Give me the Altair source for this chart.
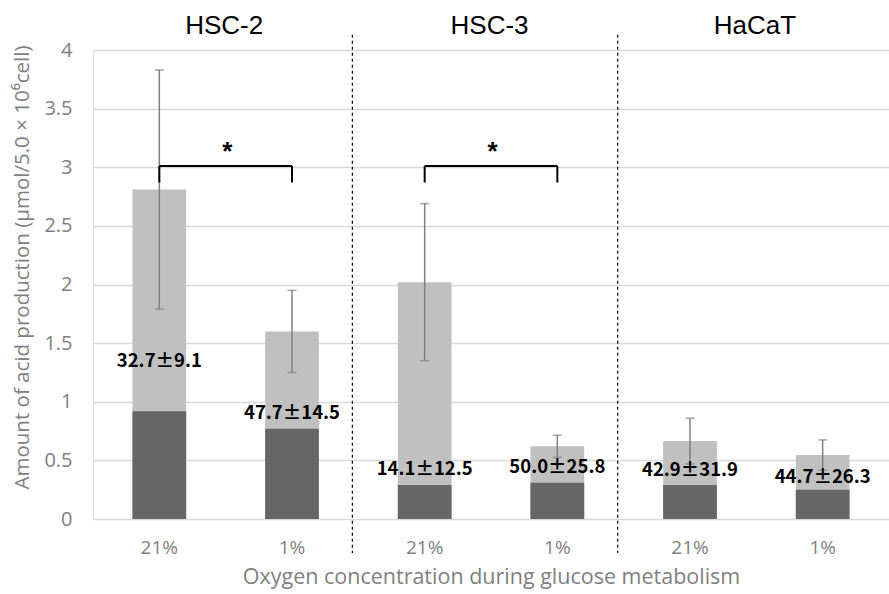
import altair as alt
import pandas as pd

# ---- data ----
groups = ["HSC-2", "HSC-2", "HSC-3", "HSC-3", "HaCaT", "HaCaT"]
oxygen = ["21%", "1%", "21%", "1%", "21%", "1%"]
total = [2.81, 1.60, 2.02, 0.62, 0.665, 0.545]
dark = [0.92, 0.77, 0.29, 0.31, 0.29, 0.25]
sd = [1.02, 0.35, 0.67, 0.095, 0.195, 0.13]
labels = ["32.7±9.1", "47.7±14.5", "14.1±12.5", "50.0±25.8", "42.9±31.9", "44.7±26.3"]
label_y = [1.35, 0.90, 0.43, 0.44, 0.42, 0.36]

title_groups = ["HSC-2", "HSC-3", "HaCaT"]
title_y = 4.14

sig_groups = ["HSC-2", "HSC-3"]
bracket_top = 3.01
bracket_leg = 2.87
star_y = 3.13

sep_after = ["HSC-2", "HSC-3"]
sep_top = 4.13
sep_bottom = -0.29

keys = [f"{g}|{o}" for g, o in zip(groups, oxygen)]

df = pd.DataFrame({
    "key": keys,
    "group": groups,
    "oxygen": oxygen,
    "total": total,
    "dark": dark,
    "lo": [t - s for t, s in zip(total, sd)],
    "hi": [t + s for t, s in zip(total, sd)],
    "label": labels,
    "label_y": label_y,
})

titles_df = pd.DataFrame({"key": [f"{g}|21%" for g in title_groups],
                          "name": title_groups, "y": [title_y] * 3})
br_df = pd.DataFrame({
    "k1": [f"{g}|21%" for g in sig_groups],
    "k2": [f"{g}|1%" for g in sig_groups],
    "top": [bracket_top] * 2,
    "leg": [bracket_leg] * 2,
    "star": [star_y] * 2,
})
legs_df = pd.DataFrame({
    "key": [f"{g}|{o}" for g in sig_groups for o in ["21%", "1%"]],
    "top": [bracket_top] * 4,
    "leg": [bracket_leg] * 4,
})
sep_df = pd.DataFrame({"key": [f"{g}|1%" for g in sep_after],
                       "top": [sep_top] * 2, "bottom": [sep_bottom] * 2})

AXIS_FONT = "Open Sans"
GRAY = "#808080"

xscale = alt.Scale(domain=keys, paddingInner=0.595, paddingOuter=0.2975)
yscale = alt.Scale(domain=[0, 4], nice=False)

x_axis = alt.Axis(
    title="Oxygen concentration during glucose metabolism",
    labelExpr="split(datum.value, '|')[1]",
    labelAngle=0, labelFont=AXIS_FONT, labelFontSize=19, labelColor=GRAY,
    labelPadding=19, titleFont=AXIS_FONT, titleFontSize=21.5, titleColor=GRAY,
    titleFontWeight="normal", titlePadding=9, domain=False, ticks=False, grid=False,
)
y_axis = alt.Axis(
    title="Amount of acid production (μmol/5.0 × 10⁶cell)",
    values=[0, 0.5, 1, 1.5, 2, 2.5, 3, 3.5, 4], format=".1~f",
    labelFont=AXIS_FONT, labelFontSize=20, labelColor=GRAY, labelPadding=21,
    titleFont=AXIS_FONT, titleFontSize=20.5, titleColor=GRAY, titleFontWeight="normal",
    titleX=-71, titleY=217, titleAlign="center", titleBaseline="middle", titleAngle=-90,
    domain=False, ticks=False, grid=True, gridColor="#d9d9d9", gridWidth=1.3,
)

base = alt.Chart(df)
X = alt.X("key:N", scale=xscale, sort=keys, axis=x_axis)

light = base.mark_bar(color="#c0c0c0").encode(
    x=X, y=alt.Y("total:Q", scale=yscale, axis=y_axis))
darkbar = base.mark_bar(color="#666666").encode(
    x=alt.X("key:N", sort=keys), y=alt.Y("dark:Q"))
err = base.mark_rule(color="#808080", strokeWidth=1.5).encode(
    x=alt.X("key:N", sort=keys), y="lo:Q", y2="hi:Q")
cap_hi = base.mark_tick(color="#808080", thickness=1.5, size=9, orient="horizontal").encode(
    x=alt.X("key:N", sort=keys), y="hi:Q")
cap_lo = base.mark_tick(color="#808080", thickness=1.5, size=9, orient="horizontal").encode(
    x=alt.X("key:N", sort=keys), y="lo:Q")
txt = base.mark_text(font="Noto Sans CJK JP", fontWeight="bold", fontSize=18.5,
                     color="black", baseline="middle", align="center").encode(
    x=alt.X("key:N", sort=keys), y="label_y:Q", text="label:N")

seps = alt.Chart(sep_df).mark_rule(color="black", strokeWidth=1.2, strokeDash=[3, 3],
                                   xOffset=33.5).encode(
    x=alt.X("key:N", sort=keys, bandPosition=1), y="top:Q", y2="bottom:Q")

titles = alt.Chart(titles_df).mark_text(font="Liberation Sans", fontSize=26, dx=38,
                                        color="black", baseline="alphabetic").encode(
    x=alt.X("key:N", sort=keys, bandPosition=1), y="y:Q", text="name:N")

br_h = alt.Chart(br_df).mark_rule(color="black", strokeWidth=2).encode(
    x=alt.X("k1:N", sort=keys), x2="k2:N", y="top:Q")
br_v = alt.Chart(legs_df).mark_rule(color="black", strokeWidth=2).encode(
    x=alt.X("key:N", sort=keys), y="top:Q", y2="leg:Q")
stars = alt.Chart(br_df).mark_text(text="*", font="Liberation Sans", fontWeight="bold",
                                   fontSize=26, color="black", baseline="middle", dx=41).encode(
    x=alt.X("k1:N", sort=keys, bandPosition=1), y="star:Q")

chart = alt.layer(light, darkbar, err, cap_hi, cap_lo, txt, seps, titles, br_h, br_v, stars).properties(
    width=796, height=469,
    autosize=alt.AutoSizeParams(type="none"),
    padding={"left": 93, "top": 50, "right": 0, "bottom": 75},
).configure_view(stroke=None).configure(background="white")

chart.save("out.html", embed_options={"renderer": "svg", "actions": False})
